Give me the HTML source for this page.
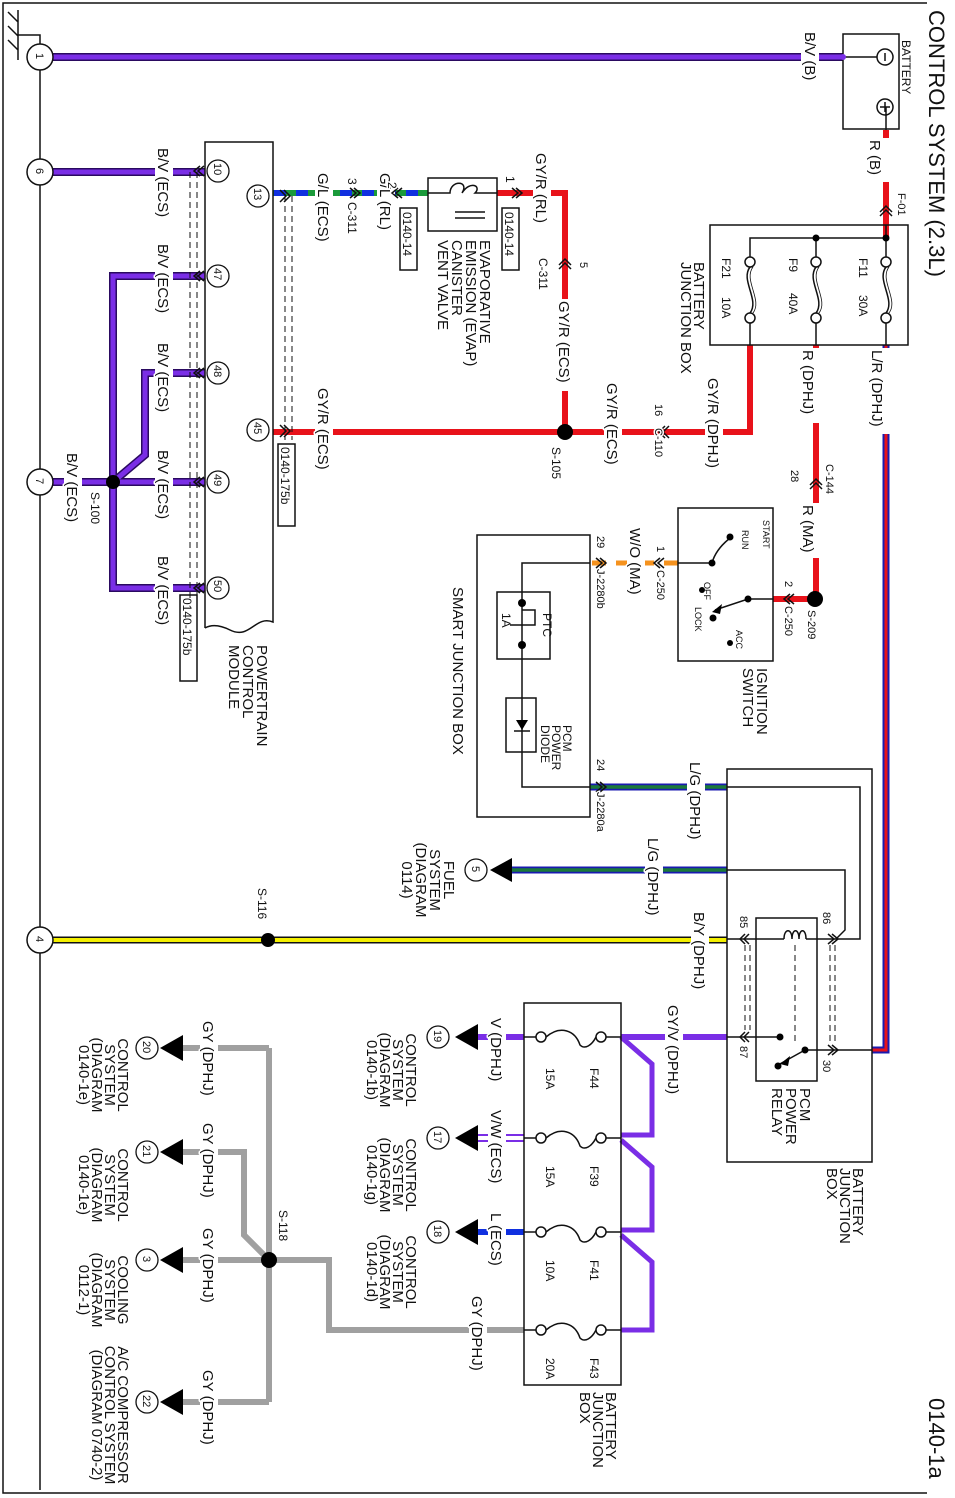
<!DOCTYPE html>
<html><head><meta charset="utf-8"><style>
html,body{margin:0;padding:0;background:#fff}
svg{display:block}
text{font-family:"Liberation Sans",sans-serif;font-size:15px;fill:#111;paint-order:stroke;stroke:#fff;stroke-width:3px;stroke-linejoin:round}
.s{font-size:11px}.m{font-size:12px}.b{font-size:22px;stroke-width:0}
.n{font-size:11px;stroke-width:0}
.k{fill:none;stroke:#111;stroke-width:1.5}
.d{fill:none;stroke:#111;stroke-width:1;stroke-dasharray:6,4}
</style></head><body>
<svg width="955" height="1498" viewBox="0 0 955 1498" xmlns="http://www.w3.org/2000/svg">
<path class="k" d="M927 3 H3 V1493 H927" stroke-width="2"/>
<path class="k" d="M18 10 V60 M18 35 H40 V44 M18 22 L8 12 M18 36 L8 26 M18 50 L8 40"/>
<line x1="40" y1="70" x2="40" y2="1490" stroke="#111" stroke-width="1.5"/>

<g fill="none" stroke-linejoin="miter">
<path d="M52 57 H843" stroke="#2a0a60" stroke-width="8"/><path d="M52 57 H843" stroke="#7a2ee6" stroke-width="5"/>
<path d="M52 172 H205" stroke="#2a0a60" stroke-width="8"/><path d="M52 172 H205" stroke="#7a2ee6" stroke-width="5"/>
<path d="M205 276 H113 V588 H205 M205 373 H145 V455 L113 482 M52 482 H205" stroke="#2a0a60" stroke-width="8"/>
<path d="M205 276 H113 V588 H205 M205 373 H145 V455 L113 482 M52 482 H205" stroke="#7a2ee6" stroke-width="5"/>
<path d="M886 130 V238" stroke="#e8121a" stroke-width="6"/>
<path d="M886 345 V1050 H872" stroke="#1a1ab0" stroke-width="7"/><path d="M886 345 V1050 H872" stroke="#e8121a" stroke-width="3"/>
<path d="M816 345 V599 H773" stroke="#e8121a" stroke-width="6"/>
<path d="M750 345 V432 H273 M565 432 V193 H497" stroke="#e8121a" stroke-width="6"/>
<path d="M428 193 H273" stroke="#1030e0" stroke-width="6"/>
<path d="M428 193 H273" stroke="#1a9a3a" stroke-width="6" stroke-dasharray="10,12"/>
<path d="M678 563 H590" stroke="#f5921e" stroke-width="5" stroke-dasharray="14,10"/>
<path d="M590 787 H727 M727 870 H512" stroke="#1a1ab0" stroke-width="7"/>
<path d="M590 787 H727 M727 870 H512" stroke="#1b7a3a" stroke-width="3.5"/>
<path d="M52 940 H727" stroke="#111" stroke-width="7"/><path d="M52 940 H727" stroke="#f4f000" stroke-width="4"/>
<path d="M727 1037 H621" stroke="#7a2ee6" stroke-width="6"/>
<path d="M621 1037 L652 1064 V1135 H621 M621 1140 L652 1167 V1230 H621 M621 1235 L652 1262 V1330 H621" stroke="#7a2ee6" stroke-width="5"/>
<path d="M524 1037 H478" stroke="#7a2ee6" stroke-width="6"/>
<path d="M524 1135 H478 M524 1141 H478" stroke="#7a2ee6" stroke-width="2"/>
<path d="M524 1232 H478" stroke="#1030e0" stroke-width="6"/>
<path d="M524 1330 H329 V1260 H183 M269 1048 V1402 M183 1048 H269 M183 1152 H244 V1235 L269 1260 M183 1402 H269" stroke="#a0a0a0" stroke-width="6"/>
</g>

<!-- label gaps -->
<g fill="#fff">
<rect x="801" y="30" width="18" height="54"/>
<rect x="880" y="138" width="12" height="44"/>
<rect x="880" y="348" width="12" height="86"/>
<rect x="810" y="348" width="12" height="75"/>
<rect x="705" y="376" width="18" height="92"/>
<rect x="810" y="503" width="12" height="55"/>
<rect x="627" y="526" width="18" height="72"/>
<rect x="687" y="760" width="18" height="82"/>
<rect x="645" y="836" width="18" height="82"/>
<rect x="691" y="910" width="18" height="82"/>
<rect x="665" y="1003" width="18" height="90"/>
<rect x="488" y="1016" width="18" height="72"/>
<rect x="488" y="1108" width="18" height="80"/>
<rect x="488" y="1211" width="18" height="62"/>
<rect x="469" y="1294" width="18" height="82"/>
<rect x="200" y="1019" width="18" height="82"/>
<rect x="200" y="1121" width="18" height="82"/>
<rect x="200" y="1226" width="18" height="82"/>
<rect x="200" y="1368" width="18" height="82"/>
<rect x="155" y="146" width="18" height="80"/>
<rect x="155" y="242" width="18" height="80"/>
<rect x="155" y="341" width="18" height="80"/>
<rect x="155" y="448" width="18" height="80"/>
<rect x="155" y="554" width="18" height="80"/>
<rect x="64" y="451" width="18" height="80"/>
<rect x="315" y="171" width="18" height="80"/>
<rect x="377" y="171" width="18" height="70"/>
<rect x="533" y="151" width="18" height="82"/>
<rect x="556" y="299" width="18" height="92"/>
<rect x="315" y="386" width="18" height="92"/>
<rect x="604" y="381" width="18" height="92"/>
</g>

<circle cx="113" cy="482" r="7" fill="#000"/>
<circle cx="565" cy="432" r="8" fill="#000"/>
<circle cx="815" cy="599" r="8" fill="#000"/>
<circle cx="268" cy="940" r="7" fill="#000"/>
<circle cx="269" cy="1260" r="8" fill="#000"/>

<g fill="#fff" stroke="#111" stroke-width="1.5">
<circle cx="40" cy="57" r="13"/><circle cx="40" cy="172" r="13"/><circle cx="40" cy="482" r="13"/><circle cx="40" cy="940" r="13"/>
</g>
<text class="n" transform="translate(36,53) rotate(90)">1</text>
<text class="n" transform="translate(36,168) rotate(90)">6</text>
<text class="n" transform="translate(36,478) rotate(90)">7</text>
<text class="n" transform="translate(36,936) rotate(90)">4</text>

<rect x="843" y="34" width="56" height="95" class="k" fill="#fff"/>
<path class="k" d="M843 57 H877 M886 107 V130"/>
<circle cx="885" cy="57" r="8" class="k" fill="#fff"/><path class="k" d="M885 53 V61"/>
<circle cx="885" cy="107" r="8" class="k" fill="#fff"/><path class="k" d="M885 102 V112 M880 107 H890"/>
<circle cx="843" cy="57" r="3" fill="#7a2ee6"/>

<rect x="710" y="225" width="198" height="120" class="k" fill="#fff"/>
<path class="k" d="M886 225 V258 M750 258 V238 H886 M816 238 V258"/>
<circle cx="816" cy="238" r="3.5" fill="#000"/><circle cx="886" cy="238" r="3.5" fill="#000"/>
<g class="k">
<circle cx="886" cy="262" r="5" fill="#fff"/><circle cx="886" cy="318" r="5" fill="#fff"/>
<path d="M886 267 C876 280 896 300 886 313"/><path d="M889 267 C879 280 899 300 889 313" stroke-width=".8"/>
<circle cx="816" cy="262" r="5" fill="#fff"/><circle cx="816" cy="318" r="5" fill="#fff"/>
<path d="M816 267 C806 280 826 300 816 313"/><path d="M819 267 C809 280 829 300 819 313" stroke-width=".8"/>
<circle cx="750" cy="262" r="5" fill="#fff"/><circle cx="750" cy="318" r="5" fill="#fff"/>
<path d="M750 267 C740 280 760 300 750 313"/><path d="M753 267 C743 280 763 300 753 313" stroke-width=".8"/>
<path d="M886 323 V345 M816 323 V345 M750 323 V345"/>
</g>

<rect x="428" y="178" width="69" height="53" class="k" fill="#fff"/>
<path class="k" d="M428 193 H450 C450 180 470 180 462 193 C470 180 482 186 475 193 H497 M455 212 H485 M455 218 H485"/>

<path class="k" d="M205 628 V142 H273 V622 C255 615 250 640 230 630 C220 625 212 624 205 628" fill="#fff"/>
<g fill="#fff" stroke="#111" stroke-width="1.3">
<circle cx="218" cy="171" r="11"/><circle cx="218" cy="276" r="11"/><circle cx="218" cy="373" r="11"/><circle cx="218" cy="482" r="11"/><circle cx="218" cy="588" r="11"/>
<circle cx="258" cy="196" r="11"/><circle cx="258" cy="430" r="11"/>
</g>
<text class="n" transform="translate(214,163) rotate(90)">10</text>
<text class="n" transform="translate(214,268) rotate(90)">47</text>
<text class="n" transform="translate(214,365) rotate(90)">48</text>
<text class="n" transform="translate(214,474) rotate(90)">49</text>
<text class="n" transform="translate(214,580) rotate(90)">50</text>
<text class="n" transform="translate(254,188) rotate(90)">13</text>
<text class="n" transform="translate(254,422) rotate(90)">45</text>
<path class="d" d="M190 172 V600 M197 172 V600 M285 196 V440 M292 196 V440"/>

<rect x="678" y="508" width="95" height="153" class="k" fill="#fff"/>
<path class="k" d="M678 563 H712 M712 563 C716 548 728 540 730 538 M773 599 H748 L715 610"/>
<circle cx="712" cy="563" r="3.5"/><circle cx="730" cy="537" r="3.5"/><circle cx="748" cy="599" r="3.5"/><circle cx="702" cy="590" r="3"/><circle cx="713" cy="618" r="3.5"/><circle cx="730" cy="643" r="3"/>
<path d="M712 612 L722 604 L720 614 Z" fill="#000"/>

<rect x="477" y="535" width="113" height="282" class="k" fill="#fff"/>
<path class="k" d="M590 563 H522 V787 H590"/>
<rect x="497" y="592" width="53" height="67" class="k"/>
<circle cx="522" cy="603" r="4"/><circle cx="522" cy="645" r="4"/>
<path class="k" d="M522 610 H535 V625 H510"/>
<rect x="506" y="698" width="30" height="54" class="k"/>
<path d="M528 720 L516 720 L522 730 Z" fill="#000"/><path class="k" d="M514 731 H530"/>

<rect x="727" y="769" width="145" height="393" class="k" fill="#fff"/>
<path class="k" d="M727 787 H860 V939 H836 M727 870 H845 V930 L836 939"/>
<rect x="756" y="918" width="61" height="163" class="k"/>
<path class="k" d="M727 939 H784 M806 939 H836 M784 939 C784 928 792 928 792 939 C792 928 799 928 799 939 C799 928 806 928 806 939 M727 1037 H780 M872 1050 H805 L778 1065"/>
<circle cx="780" cy="1037" r="3.5"/><circle cx="805" cy="1050" r="3.5"/><circle cx="778" cy="1066" r="3.5"/>
<path class="d" d="M795 945 V1045 M745 945 V1030 M750 945 V1030 M830 945 V1045 M835 945 V1045"/>
<path d="M780 1064 L790 1056 L788 1066 Z" fill="#000"/>

<rect x="524" y="1003" width="97" height="382" class="k" fill="#fff"/>
<g class="k">
<path d="M524 1037 H536 M606 1037 H621 M524 1138 H536 M606 1138 H621 M524 1232 H536 M606 1232 H621 M524 1330 H536 M606 1330 H621"/>
<circle cx="541" cy="1037" r="5" fill="#fff"/><circle cx="601" cy="1037" r="5" fill="#fff"/><path d="M546 1037 C560 1025 575 1030 580 1045 C585 1050 592 1045 596 1037"/>
<circle cx="541" cy="1138" r="5" fill="#fff"/><circle cx="601" cy="1138" r="5" fill="#fff"/><path d="M546 1138 C560 1126 575 1131 580 1146 C585 1151 592 1146 596 1138"/>
<circle cx="541" cy="1232" r="5" fill="#fff"/><circle cx="601" cy="1232" r="5" fill="#fff"/><path d="M546 1232 C560 1220 575 1225 580 1240 C585 1245 592 1240 596 1232"/>
<circle cx="541" cy="1330" r="5" fill="#fff"/><circle cx="601" cy="1330" r="5" fill="#fff"/><path d="M546 1330 C560 1318 575 1323 580 1338 C585 1343 592 1338 596 1330"/>
</g>

<g fill="#000">
<path d="M490 870 L512 858 L512 882 Z"/>
<path d="M455 1037 L478 1024 L478 1050 Z"/>
<path d="M455 1138 L478 1125 L478 1151 Z"/>
<path d="M455 1232 L478 1219 L478 1245 Z"/>
<path d="M160 1048 L183 1035 L183 1061 Z"/>
<path d="M160 1152 L183 1139 L183 1165 Z"/>
<path d="M160 1260 L183 1247 L183 1273 Z"/>
<path d="M160 1402 L183 1389 L183 1415 Z"/>
</g>
<g fill="#fff" stroke="#111" stroke-width="1.3">
<circle cx="476" cy="870" r="11"/><circle cx="438" cy="1037" r="11"/><circle cx="438" cy="1138" r="11"/><circle cx="438" cy="1232" r="11"/>
<circle cx="147" cy="1048" r="11"/><circle cx="147" cy="1152" r="11"/><circle cx="147" cy="1260" r="11"/><circle cx="147" cy="1402" r="11"/>
</g>
<text class="n" transform="translate(472,866) rotate(90)">5</text>
<text class="n" transform="translate(434,1030) rotate(90)">19</text>
<text class="n" transform="translate(434,1131) rotate(90)">17</text>
<text class="n" transform="translate(434,1225) rotate(90)">18</text>
<text class="n" transform="translate(143,1041) rotate(90)">20</text>
<text class="n" transform="translate(143,1145) rotate(90)">21</text>
<text class="n" transform="translate(143,1256) rotate(90)">3</text>
<text class="n" transform="translate(143,1395) rotate(90)">22</text>

<g class="k" stroke-width="1">
<path d="M880 212 L886 206 L892 212 M880 216 L886 210 L892 216"/>
<path d="M810 485 L816 479 L822 485 M810 489 L816 483 L822 489"/>
<path d="M559 265 L565 259 L571 265 M559 269 L565 263 L571 269"/>
<path d="M665 426 L659 432 L665 438 M669 426 L663 432 L669 438"/>
<path d="M200 166 L194 171 L200 176 M204 166 L198 171 L204 176 M200 271 L194 276 L200 281 M204 271 L198 276 L204 281 M200 368 L194 373 L200 378 M204 368 L198 373 L204 378 M200 477 L194 482 L200 487 M204 477 L198 482 L204 487 M200 583 L194 588 L200 593 M204 583 L198 588 L204 593"/>
<path d="M280 190 L286 196 L280 202 M284 190 L290 196 L284 202 M280 425 L286 431 L280 437 M284 425 L290 431 L284 437"/>
<path d="M512 188 L518 193 L512 198 M516 188 L522 193 L516 198 M398 188 L392 193 L398 198 M402 188 L396 193 L402 198 M350 188 L356 193 L350 198 M354 188 L360 193 L354 198"/>
<path d="M660 558 L654 563 L660 568 M664 558 L658 563 L664 568 M596 558 L602 563 L596 568 M600 558 L606 563 L600 568 M596 782 L602 787 L596 792 M600 782 L606 787 L600 792"/>
<path d="M790 594 L784 599 L790 604 M794 594 L788 599 L794 604"/>
<path d="M745 934 L740 939 L745 944 M749 934 L744 939 L749 944 M745 1032 L740 1037 L745 1042 M749 1032 L744 1037 L749 1042 M828 934 L834 939 L828 944 M832 934 L838 939 L832 944 M828 1045 L834 1050 L828 1055 M832 1045 L838 1050 L832 1055"/>
</g>

<g class="k" stroke-width="1" fill="#fff">
<rect x="180" y="595" width="17" height="86"/><rect x="278" y="444" width="17" height="82"/>
<rect x="400" y="208" width="17" height="62"/><rect x="502" y="208" width="17" height="62"/>
</g>
<text class="m" style="stroke-width:0" transform="translate(183,598) rotate(90)">0140-175b</text>
<text class="m" style="stroke-width:0" transform="translate(281,447) rotate(90)">0140-175b</text>
<text class="m" style="stroke-width:0" transform="translate(403,212) rotate(90)">0140-14</text>
<text class="m" style="stroke-width:0" transform="translate(505,212) rotate(90)">0140-14</text>

<text class="b" transform="translate(929,10) rotate(90)">CONTROL SYSTEM (2.3L)</text>
<text class="b" transform="translate(929,1398) rotate(90)">0140-1a</text>
<text class="m" style="stroke-width:0" transform="translate(902,40) rotate(90)">BATTERY</text>
<text transform="translate(805,32) rotate(90)">B/V (B)</text>
<text transform="translate(870,140) rotate(90)">R (B)</text>
<text class="s" transform="translate(898,193) rotate(90)">F-01</text>
<text class="m" transform="translate(859,258) rotate(90)">F11</text><text class="m" transform="translate(859,295) rotate(90)">30A</text>
<text class="m" transform="translate(789,258) rotate(90)">F9</text><text class="m" transform="translate(789,293) rotate(90)">40A</text>
<text class="m" transform="translate(722,258) rotate(90)">F21</text><text class="m" transform="translate(722,297) rotate(90)">10A</text>
<text style="stroke-width:0" transform="translate(694,262) rotate(90)">BATTERY<tspan x="0" dy="13">JUNCTION BOX</tspan></text>
<text transform="translate(872,350) rotate(90)">L/R (DPHJ)</text>
<text transform="translate(803,350) rotate(90)">R (DPHJ)</text>
<text transform="translate(708,378) rotate(90)">GY/R (DPHJ)</text>
<text class="s" transform="translate(826,464) rotate(90)">C-144</text>
<text class="s" transform="translate(791,470) rotate(90)">28</text>
<text transform="translate(803,505) rotate(90)">R (MA)</text>
<text class="s" transform="translate(785,581) rotate(90)">2</text>
<text class="s" transform="translate(785,606) rotate(90)">C-250</text>
<text class="s" transform="translate(808,610) rotate(90)">S-209</text>
<text style="font-size:9px;stroke-width:0" transform="translate(763,520) rotate(90)">START</text>
<text style="font-size:9px;stroke-width:0" transform="translate(742,530) rotate(90)">RUN</text>
<text style="font-size:9px;stroke-width:0" transform="translate(704,582) rotate(90)">OFF</text>
<text style="font-size:9px;stroke-width:0" transform="translate(695,607) rotate(90)">LOCK</text>
<text style="font-size:9px;stroke-width:0" transform="translate(736,630) rotate(90)">ACC</text>
<text style="stroke-width:0" transform="translate(757,668) rotate(90)">IGNITION<tspan x="0" dy="14">SWITCH</tspan></text>
<text class="s" transform="translate(657,546) rotate(90)">1</text>
<text class="s" transform="translate(657,570) rotate(90)">C-250</text>
<text transform="translate(630,528) rotate(90)">W/O (MA)</text>
<text class="s" transform="translate(597,536) rotate(90)">29</text>
<text class="s" transform="translate(597,569) rotate(90)">J-2280b</text>
<text class="m" style="stroke-width:0" transform="translate(543,613) rotate(90)">PTC</text>
<text class="m" style="stroke-width:0" transform="translate(502,613) rotate(90)">1A</text>
<text class="m" style="stroke-width:0" transform="translate(563,725) rotate(90)">PCM<tspan x="0" dy="11">POWER</tspan><tspan x="0" dy="11">DIODE</tspan></text>
<text style="stroke-width:0" transform="translate(453,587) rotate(90)">SMART JUNCTION BOX</text>
<text class="s" transform="translate(597,759) rotate(90)">24</text>
<text class="s" transform="translate(597,792) rotate(90)">J-2280a</text>
<text transform="translate(690,762) rotate(90)">L/G (DPHJ)</text>
<text transform="translate(648,838) rotate(90)">L/G (DPHJ)</text>
<text style="stroke-width:0" text-anchor="middle" transform="translate(444,880) rotate(90)">FUEL<tspan x="0" dy="14">SYSTEM</tspan><tspan x="0" dy="14">(DIAGRAM</tspan><tspan x="0" dy="14">0114)</tspan></text>
<text transform="translate(694,912) rotate(90)">B/Y (DPHJ)</text>
<text class="s" transform="translate(740,916) rotate(90)">85</text>
<text class="s" transform="translate(823,912) rotate(90)">86</text>
<text class="s" transform="translate(740,1046) rotate(90)">87</text>
<text class="s" transform="translate(823,1060) rotate(90)">30</text>
<text style="stroke-width:0" transform="translate(800,1088) rotate(90)">PCM<tspan x="0" dy="14">POWER</tspan><tspan x="0" dy="14">RELAY</tspan></text>
<text style="stroke-width:0" transform="translate(853,1168) rotate(90)">BATTERY<tspan x="0" dy="13">JUNCTION</tspan><tspan x="0" dy="13">BOX</tspan></text>
<text transform="translate(668,1005) rotate(90)">GY/V (DPHJ)</text>
<text class="m" transform="translate(590,1068) rotate(90)">F44</text><text class="m" transform="translate(546,1068) rotate(90)">15A</text>
<text class="m" transform="translate(590,1166) rotate(90)">F39</text><text class="m" transform="translate(546,1166) rotate(90)">15A</text>
<text class="m" transform="translate(590,1260) rotate(90)">F41</text><text class="m" transform="translate(546,1260) rotate(90)">10A</text>
<text class="m" transform="translate(590,1358) rotate(90)">F43</text><text class="m" transform="translate(546,1358) rotate(90)">20A</text>
<text style="stroke-width:0" transform="translate(606,1392) rotate(90)">BATTERY<tspan x="0" dy="13">JUNCTION</tspan><tspan x="0" dy="13">BOX</tspan></text>
<text transform="translate(491,1018) rotate(90)">V (DPHJ)</text>
<text transform="translate(491,1110) rotate(90)">V/W (ECS)</text>
<text transform="translate(491,1213) rotate(90)">L (ECS)</text>
<text transform="translate(472,1296) rotate(90)">GY (DPHJ)</text>
<text style="stroke-width:0" text-anchor="middle" transform="translate(406,1070) rotate(90)">CONTROL<tspan x="0" dy="13">SYSTEM</tspan><tspan x="0" dy="13">(DIAGRAM</tspan><tspan x="0" dy="13">0140-1b)</tspan></text>
<text style="stroke-width:0" text-anchor="middle" transform="translate(406,1175) rotate(90)">CONTROL<tspan x="0" dy="13">SYSTEM</tspan><tspan x="0" dy="13">(DIAGRAM</tspan><tspan x="0" dy="13">0140-1g)</tspan></text>
<text style="stroke-width:0" text-anchor="middle" transform="translate(406,1272) rotate(90)">CONTROL<tspan x="0" dy="13">SYSTEM</tspan><tspan x="0" dy="13">(DIAGRAM</tspan><tspan x="0" dy="13">0140-1d)</tspan></text>
<text transform="translate(203,1021) rotate(90)">GY (DPHJ)</text>
<text transform="translate(203,1123) rotate(90)">GY (DPHJ)</text>
<text transform="translate(203,1228) rotate(90)">GY (DPHJ)</text>
<text transform="translate(203,1370) rotate(90)">GY (DPHJ)</text>
<text style="stroke-width:0" text-anchor="middle" transform="translate(118,1075) rotate(90)">CONTROL<tspan x="0" dy="13">SYSTEM</tspan><tspan x="0" dy="13">(DIAGRAM</tspan><tspan x="0" dy="13">0140-1e)</tspan></text>
<text style="stroke-width:0" text-anchor="middle" transform="translate(118,1185) rotate(90)">CONTROL<tspan x="0" dy="13">SYSTEM</tspan><tspan x="0" dy="13">(DIAGRAM</tspan><tspan x="0" dy="13">0140-1e)</tspan></text>
<text style="stroke-width:0" text-anchor="middle" transform="translate(118,1290) rotate(90)">COOLING<tspan x="0" dy="13">SYSTEM</tspan><tspan x="0" dy="13">(DIAGRAM</tspan><tspan x="0" dy="13">0112-1)</tspan></text>
<text style="stroke-width:0" text-anchor="middle" transform="translate(118,1415) rotate(90)">A/C COMPRESSOR<tspan x="0" dy="13">CONTROL SYSTEM</tspan><tspan x="0" dy="13">(DIAGRAM 0740-2)</tspan></text>
<text class="m" transform="translate(279,1210) rotate(90)">S-118</text>
<text class="m" transform="translate(258,888) rotate(90)">S-116</text>
<text class="m" transform="translate(91,492) rotate(90)">S-100</text>
<text transform="translate(67,453) rotate(90)">B/V (ECS)</text>
<text transform="translate(158,148) rotate(90)">B/V (ECS)</text>
<text transform="translate(158,244) rotate(90)">B/V (ECS)</text>
<text transform="translate(158,343) rotate(90)">B/V (ECS)</text>
<text transform="translate(158,450) rotate(90)">B/V (ECS)</text>
<text transform="translate(158,556) rotate(90)">B/V (ECS)</text>
<text transform="translate(318,173) rotate(90)">G/L (ECS)</text>
<text class="m" transform="translate(348,178) rotate(90)">3</text>
<text class="m" transform="translate(348,202) rotate(90)">C-311</text>
<text transform="translate(380,173) rotate(90)">G/L (RL)</text>
<text class="m" transform="translate(388,182) rotate(90)">2</text>
<text class="m" transform="translate(506,176) rotate(90)">1</text>
<text transform="translate(536,153) rotate(90)">GY/R (RL)</text>
<text class="m" transform="translate(539,258) rotate(90)">C-311</text>
<text class="s" transform="translate(580,262) rotate(90)">5</text>
<text transform="translate(559,301) rotate(90)">GY/R (ECS)</text>
<text class="m" transform="translate(552,447) rotate(90)">S-105</text>
<text style="stroke-width:0" transform="translate(480,240) rotate(90)">EVAPORATIVE<tspan x="0" dy="14">EMISSION (EVAP)</tspan><tspan x="0" dy="14">CANISTER</tspan><tspan x="0" dy="14">VENT VALVE</tspan></text>
<text transform="translate(318,388) rotate(90)">GY/R (ECS)</text>
<text transform="translate(607,383) rotate(90)">GY/R (ECS)</text>
<text class="s" transform="translate(655,404) rotate(90)">16</text>
<text class="s" transform="translate(655,428) rotate(90)">C-110</text>
<text style="font-size:15px;stroke-width:0" transform="translate(257,645) rotate(90)">POWERTRAIN<tspan x="0" dy="14">CONTROL</tspan><tspan x="0" dy="14">MODULE</tspan></text>
</svg>
</body></html>
